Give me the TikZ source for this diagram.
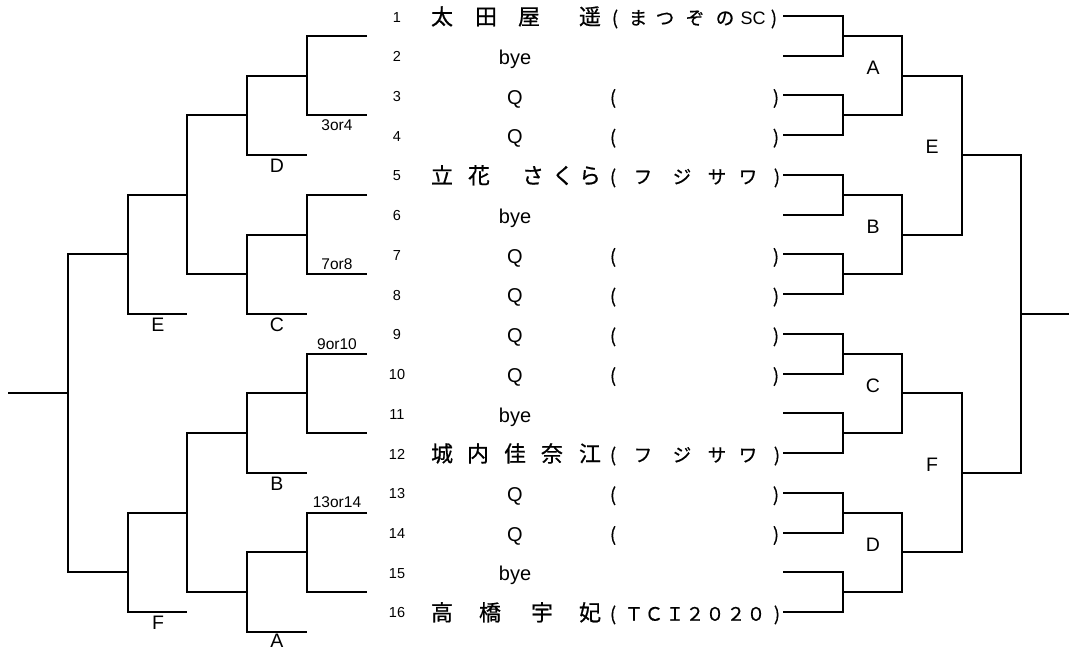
\documentclass[tikz,border=0pt]{standalone}
\usepackage{fontspec}
\setmainfont{Liberation Sans}
\newfontfamily\jpfont{Noto Sans CJK JP}[UprightFeatures={FakeBold=0.7}]
\usepackage{tikz}

\begin{document}
\begin{tikzpicture}[x=1pt,y=-39.73pt,line width=2pt,
    num/.style={anchor=base,inner sep=0pt,font=\fontsize{14.5}{15}\selectfont},
    entry/.style={anchor=base,inner sep=0pt,font=\fontsize{20}{22}\selectfont},
    kanji/.style={anchor=base,inner sep=0pt,font=\jpfont\fontsize{22}{24}\selectfont},
    kana/.style={anchor=base,inner sep=0pt,font=\jpfont\fontsize{18.5}{20}\selectfont},
    tag/.style={inner sep=3.5pt,font=\fontsize{15.5}{17}\selectfont},
    blk/.style={inner sep=3pt,font=\fontsize{19.5}{21}\selectfont}]
  \useasboundingbox (0,0.597) rectangle (1069,16.958);
  % Seed numbers
  \foreach \i in {1,...,16}
    \node[num] (num\i) at (397,\i+0.151) {\i};
  % Byes and qualifiers
  \foreach \i in {2,6,11,15}
    \node[entry] (bye\i) at (515,\i+0.22) {bye};
  \foreach \i in {3,4,7,8,9,10,13,14} {
    \node[entry] (q\i) at (515,\i+0.22) {Q};
    \node[kana] (qo\i) at (613,\i+0.22) {(};
    \node[kana] (qc\i) at (776,\i+0.22) {)};
  }
  % Seeded players
  \foreach \x/\ch [count=\k] in {442/太,486/田,529/屋,590/遥}
    \node[kanji] (nmA\k) at (\x,1.22) {\ch};
  \foreach \x/\ch [count=\k] in {615/{(},638/ま,665/つ,695/ぞ,725/の,774/{)}}
    \node[kana] (tmA\k) at (\x,1.22) {\ch};
  \node[entry,font=\fontsize{18}{20}\selectfont] (tmSC) at (753,1.22) {SC};
  \foreach \x/\ch [count=\k] in {442/立,479/花,533/さ,563/く,590/ら}
    \node[kanji] (nmB\k) at (\x,5.22) {\ch};
  \foreach \x/\ch [count=\k] in {442/城,478/内,515/佳,552/奈,590/江}
    \node[kanji] (nmC\k) at (\x,12.22) {\ch};
  \foreach \r in {5,12}
    \foreach \x/\ch [count=\k] in {613/{(},643/フ,682/ジ,717/サ,748/ワ,777/{)}}
      \node[kana] (tm\r-\k) at (\x,\r+0.22) {\ch};
  \foreach \x/\ch [count=\k] in {442/高,490/橋,542/宇,590/妃}
    \node[kanji] (nmD\k) at (\x,16.22) {\ch};
  \foreach \x/\ch [count=\k] in {613/{(},634/Ｔ,654/Ｃ,675/Ｉ,695/２,715/０,736/２,756/０,777/{)}}
    \node[kana] (tmD\k) at (\x,16.22) {\ch};

  % Right bracket
  \foreach \i in {1,3,...,15}
    \draw (783,\i) -| (843,\i+1) -- (783,\i+1) (843,\i+0.5) -- (902,\i+0.5);
  \foreach \i in {1.5,5.5,9.5,13.5}
    \draw (843,\i) -| (902,\i+2) -- (843,\i+2) (902,\i+1) -- (962,\i+1);
  \foreach \i in {2.5,10.5}
    \draw (902,\i) -| (962,\i+4) -- (902,\i+4) (962,\i+2) -- (1021,\i+2);
  \draw (962,4.5) -| (1021,12.5) -- (962,12.5) (1021,8.5) -- (1069,8.5);
  \foreach \y/\l in {2.3/A,6.3/B,10.3/C,14.3/D}
    \node[blk] (rt\l) at (873,\y) {\l};
  \foreach \y/\l in {4.3/E,12.3/F}
    \node[blk] (rt\l) at (932,\y) {\l};

  % Left bracket
  \foreach \i in {1.5,5.5,9.5,13.5}
    \draw (367,\i) -| (307,\i+2) -- (367,\i+2) (307,\i+1) -- (247,\i+1);
  \foreach \i in {2.5,6.5,10.5,14.5}
    \draw (307,\i) -| (247,\i+2) -- (307,\i+2) (247,\i+1) -- (187,\i+1);
  \foreach \i in {3.5,11.5}
    \draw (247,\i) -| (187,\i+4) -- (247,\i+4) (187,\i+2) -- (128,\i+2);
  \draw (187,5.5) -| (128,8.5) -- (187,8.5) (128,7) -- (68,7);
  \draw (187,13.5) -| (128,16) -- (187,16) (128,15) -- (68,15);
  \draw (128,7) -| (68,15) -- (128,15) (68,10.5) -- (8,10.5);
  \node[tag,below] (tag4) at (337,3.5) {3or4};
  \foreach \y/\t [count=\k] in {7.5/7or8,9.5/9or10,13.5/13or14}
    \node[tag,above] (tagq\k) at (337,\y) {\t};
  \foreach \x/\y/\l in {277/4.5/D,277/8.5/C,277/12.5/B,158/8.5/E,158/16/F}
    \node[blk,below] (lt\l) at (\x,\y) {\l};
  \node[blk,below,inner sep=0.8pt] (ltA) at (277,16.5) {A};
\end{tikzpicture}
\end{document}
